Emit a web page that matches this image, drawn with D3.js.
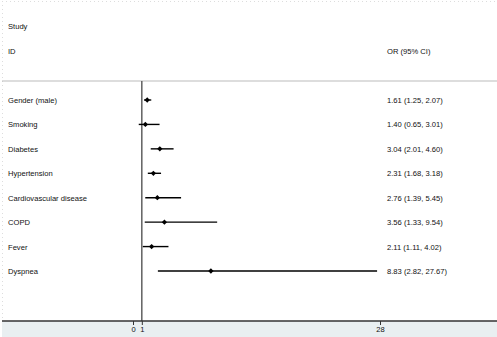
<!DOCTYPE html>
<html>
<head>
<meta charset="utf-8">
<script src="https://cdn.jsdelivr.net/npm/d3@7"></script>
<style>
  body { margin: 0; background: #fff; }
  svg { display: block; font-family: "Liberation Sans", Arial, sans-serif; }
</style>
</head>
<body>
<div id="chart"></div>
<script>
const studies = ["Gender (male)", "Smoking", "Diabetes", "Hypertension",
  "Cardiovascular disease", "COPD", "Fever", "Dyspnea"];
const orValues = [1.61, 1.40, 3.04, 2.31, 2.76, 3.56, 2.11, 8.83];
const ciLow = [1.25, 0.65, 2.01, 1.68, 1.39, 1.33, 1.11, 2.82];
const ciHigh = [2.07, 3.01, 4.60, 3.18, 5.45, 9.54, 4.02, 27.67];
const xTicks = [0, 1, 28];

const width = 497, height = 337;
const axisY = 321, headerLine = 81;
const fontSize = "7.6px";

const svg = d3.select("#chart")
	.append("svg")
	.attr("width", width)
	.attr("height", height);

const x = d3.scaleLinear().domain([0, 28]).range([133, 380]);
const y = d3.scalePoint().domain(studies).range([100, 271]);

// faint dotted frame of the plot region
svg.append("line")
	.attr("x1", 2).attr("x2", width).attr("y1", 1.5).attr("y2", 1.5)
	.style("stroke", "#ddd").style("stroke-dasharray", "1,3");
svg.append("line")
	.attr("x1", 2.5).attr("x2", 2.5).attr("y1", 1).attr("y2", axisY)
	.style("stroke", "#ddd").style("stroke-dasharray", "1,3");

// band under the axis
svg.append("rect")
	.attr("x", 2).attr("y", axisY)
	.attr("width", width - 2).attr("height", height - axisY)
	.style("fill", "#e9eff1");

// headers
svg.append("text").attr("x", 8).attr("y", 29).text("Study");
svg.append("text").attr("x", 8).attr("y", 54).text("ID");
svg.append("text").attr("x", 387).attr("y", 54).text("OR (95% CI)");
svg.selectAll("text").style("font-size", fontSize).style("fill", "#111");

svg.append("line")
	.attr("x1", 2).attr("x2", width).attr("y1", headerLine).attr("y2", headerLine)
	.style("stroke", "#bbb");

// no-effect line
svg.append("line")
	.attr("x1", x(1)).attr("x2", x(1)).attr("y1", headerLine).attr("y2", axisY)
	.style("stroke", "#555").style("stroke-width", 1.4);

const rows = svg.selectAll("g.row")
	.data(studies)
	.enter().append("g")
	.attr("class", "row");

rows.append("text")
	.attr("x", 8)
	.attr("y", d => y(d) + 3)
	.style("font-size", fontSize)
	.style("fill", "#111")
	.text(d => d);

rows.append("line")
	.attr("x1", (d, i) => x(ciLow[i]))
	.attr("x2", (d, i) => x(ciHigh[i]))
	.attr("y1", d => y(d))
	.attr("y2", d => y(d))
	.style("stroke", "#000")
	.style("stroke-width", 1.4);

rows.append("path")
	.attr("d", d3.symbol(d3.symbolDiamond2, 18))
	.attr("transform", (d, i) => "translate(" + x(orValues[i]) + "," + y(d) + ")")
	.style("fill", "#000");

rows.append("text")
	.attr("x", 387)
	.attr("y", d => y(d) + 3)
	.style("font-size", fontSize)
	.style("fill", "#111")
	.text((d, i) => orValues[i].toFixed(2) + " (" + ciLow[i].toFixed(2) + ", " + ciHigh[i].toFixed(2) + ")");

// x axis
const xAxis = d3.axisBottom(x).tickValues(xTicks).tickSize(4).tickPadding(2);
const gx = svg.append("g")
	.attr("class", "x axis")
	.attr("transform", "translate(0," + axisY + ")")
	.call(xAxis);
gx.select(".domain").remove();
gx.append("line")
	.attr("x1", 2).attr("x2", width).attr("y1", 0).attr("y2", 0)
	.style("stroke", "#333").style("stroke-width", 1.4);
gx.selectAll(".tick line").style("stroke", "#333");
gx.selectAll(".tick text")
	.style("font-size", fontSize)
	.style("font-family", "Liberation Sans, Arial, sans-serif")
	.style("fill", "#111");
</script>
</body>
</html>
